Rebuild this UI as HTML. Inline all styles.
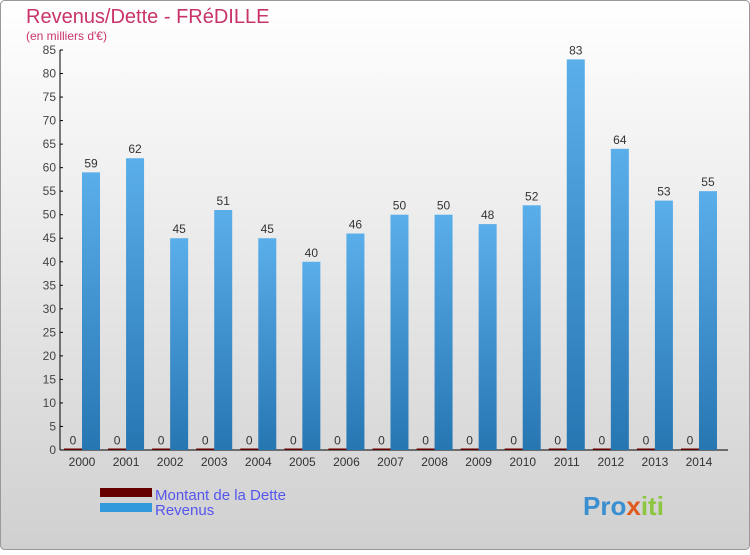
<!DOCTYPE html>
<html><head><meta charset="utf-8"><style>
body{margin:0;width:750px;height:550px;overflow:hidden;font-family:"Liberation Sans",sans-serif}
</style></head><body>
<svg width="750" height="550">
<defs>
<linearGradient id="bg" x1="0" y1="0" x2="0" y2="1"><stop offset="0" stop-color="#ffffff"/><stop offset="1" stop-color="#d0d0d0"/></linearGradient>
<linearGradient id="bar" x1="0" y1="0" x2="0" y2="1"><stop offset="0" stop-color="#5aaeea"/><stop offset="1" stop-color="#2676b2"/></linearGradient>
</defs>
<rect x="0.5" y="0.5" width="749" height="549" rx="4" fill="url(#bg)" stroke="#999"/>
<text x="26" y="23" font-size="20" fill="#c8336a">Revenus/Dette - FRéDILLE</text>
<text x="26" y="40" font-size="12" fill="#c8336a">(en milliers d'€)</text>
<g id="axes"></g>
<g id="marks"></g>
<rect x="100" y="488" width="52" height="9" fill="#660000"/>
<text x="155" y="500" font-size="15" fill="#5555ee">Montant de la Dette</text>
<rect x="100" y="503" width="52" height="9" fill="#3399dd"/>
<text x="155" y="515" font-size="15" fill="#5555ee">Revenus</text>
<text x="583" y="515" font-size="26" font-weight="bold"><tspan fill="#3a8fd0">Pro</tspan><tspan fill="#e05a20">x</tspan><tspan fill="#8cc63f">iti</tspan></text>
</svg>
<script>
const years=["2000","2001","2002","2003","2004","2005","2006","2007","2008","2009","2010","2011","2012","2013","2014"];
const revenus=[59,62,45,51,45,40,46,50,50,48,52,83,64,53,55];
const dette=[0,0,0,0,0,0,0,0,0,0,0,0,0,0,0];
const yTicks=[0,5,10,15,20,25,30,35,40,45,50,55,60,65,70,75,80,85];
const NS="http://www.w3.org/2000/svg";
const y0=450,yMax=85,pxPer=400/85;
const yS=v=>y0-v*pxPer;
const xS=i=>82+i*44.07;
const ax=document.getElementById('axes'),mk=document.getElementById('marks');
function mkEl(t,a,p){const e=document.createElementNS(NS,t);for(const k in a)e.setAttribute(k,a[k]);p.appendChild(e);return e;}
const yl=mkEl('line',{x1:60,y1:50,x2:60,y2:450,stroke:'#000'},ax);


const xl=mkEl('line',{x1:60,y1:450,x2:728,y2:450,stroke:'#000'},ax);


yTicks.forEach(v=>{
 mkEl('line',{x1:60,y1:yS(v),x2:63,y2:yS(v),stroke:'#000'},ax);
 const t=mkEl('text',{x:56,y:yS(v)+4,'font-size':12,fill:'#444','text-anchor':'end'},ax);
 t.textContent=v;
 
 
});
years.forEach((yr,i)=>{
 const c=xS(i);
 const t=mkEl('text',{x:c,y:466,'font-size':12,fill:'#333','text-anchor':'middle'},ax);
 t.textContent=yr;
 
 
 const dh=Math.max(dette[i]*pxPer,1.5);
 const d=mkEl('rect',{x:c-18,y:y0-dh,width:18,height:dh,fill:'#660000'},mk);
 
 
 const dl=mkEl('text',{x:c-9,y:y0-dh-4,'font-size':12,fill:'#333','text-anchor':'middle'},mk);
 dl.textContent=dette[i];
 
 
 const r=mkEl('rect',{x:c,y:yS(revenus[i]),width:18,height:revenus[i]*pxPer,fill:'url(#bar)'},mk);
 
 
 const rl=mkEl('text',{x:c+9,y:yS(revenus[i])-5,'font-size':12,fill:'#333','text-anchor':'middle'},mk);
 rl.textContent=revenus[i];
 
 
});
</script>
</body></html>
